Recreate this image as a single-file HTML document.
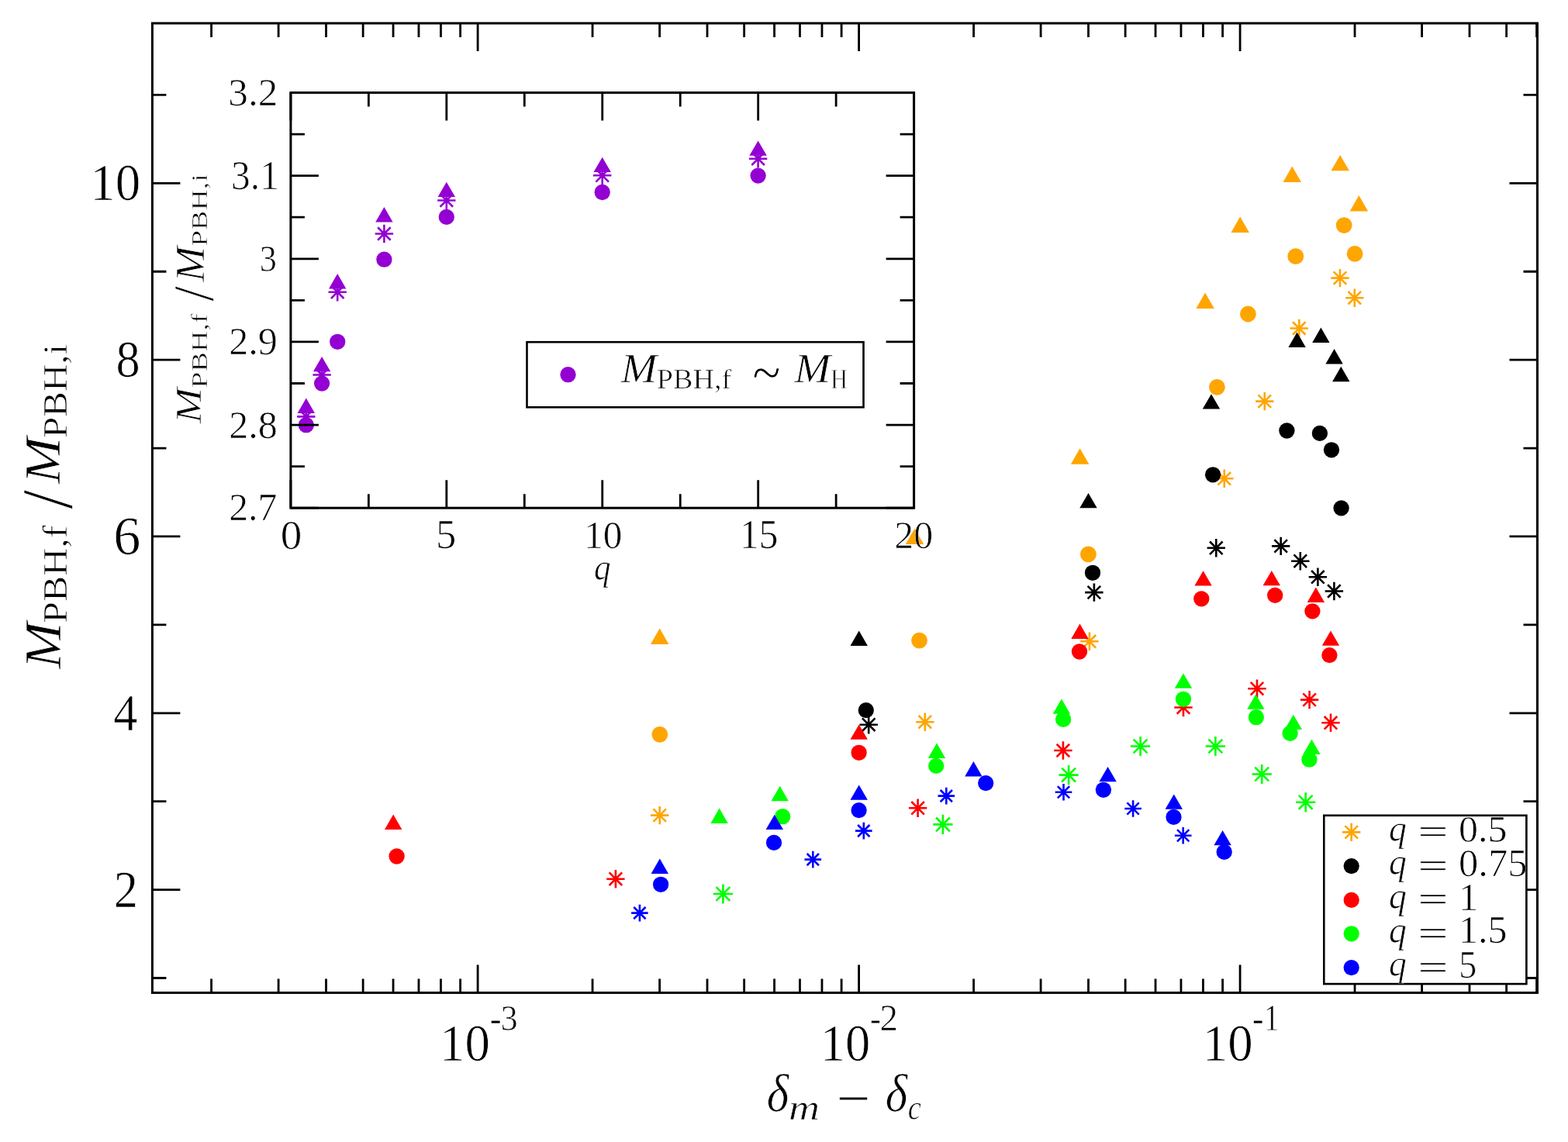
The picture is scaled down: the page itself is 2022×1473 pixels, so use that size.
<!DOCTYPE html>
<html><head><meta charset="utf-8"><style>html,body{margin:0;padding:0;background:#fff;}svg{display:block;}</style></head><body>
<svg width="2022" height="1473" viewBox="0 0 2022 1473">
<rect width="2022" height="1473" fill="#fff"/>
<path d="M850.7 810.5L838.95 830.9L862.45 830.9Z" fill="#ffa500"/>
<path d="M1179.5 681.7L1167.75 702.1L1191.25 702.1Z" fill="#ffa500"/>
<path d="M1392.6 578.3L1380.85 598.7L1404.35 598.7Z" fill="#ffa500"/>
<path d="M1554.1 377.6L1542.35 398L1565.85 398Z" fill="#ffa500"/>
<path d="M1599.2 279.6L1587.45 300L1610.95 300Z" fill="#ffa500"/>
<path d="M1666.3 214.6L1654.55 235L1678.05 235Z" fill="#ffa500"/>
<path d="M1728.2 199.9L1716.45 220.3L1739.95 220.3Z" fill="#ffa500"/>
<path d="M1752.4 252.1L1740.65 272.5L1764.15 272.5Z" fill="#ffa500"/>
<circle cx="850.8" cy="947.3" r="10.4" fill="#ffa500"/>
<circle cx="1185.5" cy="826.1" r="10.4" fill="#ffa500"/>
<circle cx="1403.4" cy="714.9" r="10.4" fill="#ffa500"/>
<circle cx="1569.4" cy="499.3" r="10.4" fill="#ffa500"/>
<circle cx="1609.4" cy="405" r="10.4" fill="#ffa500"/>
<circle cx="1670.8" cy="330.7" r="10.4" fill="#ffa500"/>
<circle cx="1733.2" cy="290.6" r="10.4" fill="#ffa500"/>
<circle cx="1747.1" cy="327.3" r="10.4" fill="#ffa500"/>
<path d="M850.7 1039.9V1063.3M839 1051.6H862.4M842.43 1043.33L858.97 1059.87M842.43 1059.87L858.97 1043.33" stroke="#ffa500" stroke-width="2.6" fill="none"/>
<path d="M1192.8 919.5V942.9M1181.1 931.2H1204.5M1184.53 922.93L1201.07 939.47M1184.53 939.47L1201.07 922.93" stroke="#ffa500" stroke-width="2.6" fill="none"/>
<path d="M1404.9 815.6V839M1393.2 827.3H1416.6M1396.63 819.03L1413.17 835.57M1396.63 835.57L1413.17 819.03" stroke="#ffa500" stroke-width="2.6" fill="none"/>
<path d="M1578.8 605.6V629M1567.1 617.3H1590.5M1570.53 609.03L1587.07 625.57M1570.53 625.57L1587.07 609.03" stroke="#ffa500" stroke-width="2.6" fill="none"/>
<path d="M1630.8 505.9V529.3M1619.1 517.6H1642.5M1622.53 509.33L1639.07 525.87M1622.53 525.87L1639.07 509.33" stroke="#ffa500" stroke-width="2.6" fill="none"/>
<path d="M1675.3 411.8V435.2M1663.6 423.5H1687M1667.03 415.23L1683.57 431.77M1667.03 431.77L1683.57 415.23" stroke="#ffa500" stroke-width="2.6" fill="none"/>
<path d="M1728 346.9V370.3M1716.3 358.6H1739.7M1719.73 350.33L1736.27 366.87M1719.73 366.87L1736.27 350.33" stroke="#ffa500" stroke-width="2.6" fill="none"/>
<path d="M1746.8 372.5V395.9M1735.1 384.2H1758.5M1738.53 375.93L1755.07 392.47M1738.53 392.47L1755.07 375.93" stroke="#ffa500" stroke-width="2.6" fill="none"/>
<path d="M1107.7 813.5L1096.5 832.9L1118.9 832.9Z" fill="#000000"/>
<path d="M1403.5 635.9L1392.3 655.3L1414.7 655.3Z" fill="#000000"/>
<path d="M1562 508.2L1550.8 527.6L1573.2 527.6Z" fill="#000000"/>
<path d="M1672.6 428.5L1661.4 447.9L1683.8 447.9Z" fill="#000000"/>
<path d="M1703.4 422.6L1692.2 442L1714.6 442Z" fill="#000000"/>
<path d="M1720.6 450.1L1709.4 469.5L1731.8 469.5Z" fill="#000000"/>
<path d="M1729.3 472.8L1718.1 492.2L1740.5 492.2Z" fill="#000000"/>
<circle cx="1116.8" cy="916.1" r="10.15" fill="#000000"/>
<circle cx="1409" cy="738.8" r="10.15" fill="#000000"/>
<circle cx="1564.1" cy="612.3" r="10.15" fill="#000000"/>
<circle cx="1659.4" cy="555.5" r="10.15" fill="#000000"/>
<circle cx="1701.9" cy="558.9" r="10.15" fill="#000000"/>
<circle cx="1717" cy="580.3" r="10.15" fill="#000000"/>
<circle cx="1729.6" cy="655.4" r="10.15" fill="#000000"/>
<path d="M1120.2 923V946.4M1108.5 934.7H1131.9M1111.93 926.43L1128.47 942.97M1111.93 942.97L1128.47 926.43" stroke="#000000" stroke-width="2.6" fill="none"/>
<path d="M1410.9 752.4V775.8M1399.2 764.1H1422.6M1402.63 755.83L1419.17 772.37M1402.63 772.37L1419.17 755.83" stroke="#000000" stroke-width="2.6" fill="none"/>
<path d="M1568.3 695.1V718.5M1556.6 706.8H1580M1560.03 698.53L1576.57 715.07M1560.03 715.07L1576.57 698.53" stroke="#000000" stroke-width="2.6" fill="none"/>
<path d="M1651.7 692.7V716.1M1640 704.4H1663.4M1643.43 696.13L1659.97 712.67M1643.43 712.67L1659.97 696.13" stroke="#000000" stroke-width="2.6" fill="none"/>
<path d="M1676.8 712V735.4M1665.1 723.7H1688.5M1668.53 715.43L1685.07 731.97M1668.53 731.97L1685.07 715.43" stroke="#000000" stroke-width="2.6" fill="none"/>
<path d="M1699.4 732.6V756M1687.7 744.3H1711.1M1691.13 736.03L1707.67 752.57M1691.13 752.57L1707.67 736.03" stroke="#000000" stroke-width="2.6" fill="none"/>
<path d="M1720.4 750.8V774.2M1708.7 762.5H1732.1M1712.13 754.23L1728.67 770.77M1712.13 770.77L1728.67 754.23" stroke="#000000" stroke-width="2.6" fill="none"/>
<path d="M507.2 1050.6L496 1070L518.4 1070Z" fill="#ff0000"/>
<path d="M1107.7 934.4L1096.5 953.8L1118.9 953.8Z" fill="#ff0000"/>
<path d="M1392.5 804.5L1381.3 823.9L1403.7 823.9Z" fill="#ff0000"/>
<path d="M1551.6 736.2L1540.4 755.6L1562.8 755.6Z" fill="#ff0000"/>
<path d="M1639.8 735.9L1628.6 755.3L1651 755.3Z" fill="#ff0000"/>
<path d="M1696.9 757.5L1685.7 776.9L1708.1 776.9Z" fill="#ff0000"/>
<path d="M1716 813.4L1704.8 832.8L1727.2 832.8Z" fill="#ff0000"/>
<circle cx="511.6" cy="1104.5" r="10.15" fill="#ff0000"/>
<circle cx="1107.6" cy="970.8" r="10.15" fill="#ff0000"/>
<circle cx="1392" cy="840.5" r="10.15" fill="#ff0000"/>
<circle cx="1549.3" cy="772.4" r="10.15" fill="#ff0000"/>
<circle cx="1644.2" cy="767.9" r="10.15" fill="#ff0000"/>
<circle cx="1692.4" cy="788.4" r="10.15" fill="#ff0000"/>
<circle cx="1714.4" cy="845.1" r="10.15" fill="#ff0000"/>
<path d="M793.9 1122V1145.4M782.2 1133.7H805.6M785.63 1125.43L802.17 1141.97M785.63 1141.97L802.17 1125.43" stroke="#ff0000" stroke-width="2.6" fill="none"/>
<path d="M1183.6 1030.6V1054M1171.9 1042.3H1195.3M1175.33 1034.03L1191.87 1050.57M1175.33 1050.57L1191.87 1034.03" stroke="#ff0000" stroke-width="2.6" fill="none"/>
<path d="M1370.9 956.3V979.7M1359.2 968H1382.6M1362.63 959.73L1379.17 976.27M1362.63 976.27L1379.17 959.73" stroke="#ff0000" stroke-width="2.6" fill="none"/>
<path d="M1526 900.8V924.2M1514.3 912.5H1537.7M1517.73 904.23L1534.27 920.77M1517.73 920.77L1534.27 904.23" stroke="#ff0000" stroke-width="2.6" fill="none"/>
<path d="M1621 876.5V899.9M1609.3 888.2H1632.7M1612.73 879.93L1629.27 896.47M1612.73 896.47L1629.27 879.93" stroke="#ff0000" stroke-width="2.6" fill="none"/>
<path d="M1688.6 890.9V914.3M1676.9 902.6H1700.3M1680.33 894.33L1696.87 910.87M1680.33 910.87L1696.87 894.33" stroke="#ff0000" stroke-width="2.6" fill="none"/>
<path d="M1716 920.6V944M1704.3 932.3H1727.7M1707.73 924.03L1724.27 940.57M1707.73 940.57L1724.27 924.03" stroke="#ff0000" stroke-width="2.6" fill="none"/>
<path d="M927.6 1042.5L916.4 1061.9L938.8 1061.9Z" fill="#00ff00"/>
<path d="M1005.7 1013.8L994.5 1033.2L1016.9 1033.2Z" fill="#00ff00"/>
<path d="M1208 958.5L1196.8 977.9L1219.2 977.9Z" fill="#00ff00"/>
<path d="M1368.9 901.4L1357.7 920.8L1380.1 920.8Z" fill="#00ff00"/>
<path d="M1526 868.4L1514.8 887.8L1537.2 887.8Z" fill="#00ff00"/>
<path d="M1619.4 895.4L1608.2 914.8L1630.6 914.8Z" fill="#00ff00"/>
<path d="M1667.8 921.7L1656.6 941.1L1679 941.1Z" fill="#00ff00"/>
<path d="M1691.5 953.7L1680.3 973.1L1702.7 973.1Z" fill="#00ff00"/>
<circle cx="1009.2" cy="1053.2" r="10.15" fill="#00ff00"/>
<circle cx="1207.2" cy="987.9" r="10.15" fill="#00ff00"/>
<circle cx="1371.1" cy="927.9" r="10.15" fill="#00ff00"/>
<circle cx="1526" cy="901.8" r="10.15" fill="#00ff00"/>
<circle cx="1619.9" cy="925.2" r="10.15" fill="#00ff00"/>
<circle cx="1663.6" cy="945.9" r="10.15" fill="#00ff00"/>
<circle cx="1688.4" cy="979.7" r="10.15" fill="#00ff00"/>
<path d="M932.4 1140.4V1165.6M919.8 1153H945M923.49 1144.09L941.31 1161.91M923.49 1161.91L941.31 1144.09" stroke="#00ff00" stroke-width="2.6" fill="none"/>
<path d="M1215.9 1050.8V1076M1203.3 1063.4H1228.5M1206.99 1054.49L1224.81 1072.31M1206.99 1072.31L1224.81 1054.49" stroke="#00ff00" stroke-width="2.6" fill="none"/>
<path d="M1378.1 987V1012.2M1365.5 999.6H1390.7M1369.19 990.69L1387.01 1008.51M1369.19 1008.51L1387.01 990.69" stroke="#00ff00" stroke-width="2.6" fill="none"/>
<path d="M1470.6 949.9V975.1M1458 962.5H1483.2M1461.69 953.59L1479.51 971.41M1461.69 971.41L1479.51 953.59" stroke="#00ff00" stroke-width="2.6" fill="none"/>
<path d="M1567.4 949.9V975.1M1554.8 962.5H1580M1558.49 953.59L1576.31 971.41M1558.49 971.41L1576.31 953.59" stroke="#00ff00" stroke-width="2.6" fill="none"/>
<path d="M1627.2 985.9V1011.1M1614.6 998.5H1639.8M1618.29 989.59L1636.11 1007.41M1618.29 1007.41L1636.11 989.59" stroke="#00ff00" stroke-width="2.6" fill="none"/>
<path d="M1683.7 1022.2V1047.4M1671.1 1034.8H1696.3M1674.79 1025.89L1692.61 1043.71M1674.79 1043.71L1692.61 1025.89" stroke="#00ff00" stroke-width="2.6" fill="none"/>
<path d="M850.8 1107.5L839.6 1126.9L862 1126.9Z" fill="#0000ff"/>
<path d="M998.8 1050.7L987.6 1070.1L1010 1070.1Z" fill="#0000ff"/>
<path d="M1107.7 1012.4L1096.5 1031.8L1118.9 1031.8Z" fill="#0000ff"/>
<path d="M1255.4 982.1L1244.2 1001.5L1266.6 1001.5Z" fill="#0000ff"/>
<path d="M1428.6 988.9L1417.4 1008.3L1439.8 1008.3Z" fill="#0000ff"/>
<path d="M1513.8 1024.4L1502.6 1043.8L1525 1043.8Z" fill="#0000ff"/>
<path d="M1576.6 1070.9L1565.4 1090.3L1587.8 1090.3Z" fill="#0000ff"/>
<circle cx="852.1" cy="1140.8" r="10.15" fill="#0000ff"/>
<circle cx="998" cy="1086.9" r="10.15" fill="#0000ff"/>
<circle cx="1107.6" cy="1045.1" r="10.15" fill="#0000ff"/>
<circle cx="1271.2" cy="1010.1" r="10.15" fill="#0000ff"/>
<circle cx="1422.9" cy="1018.8" r="10.15" fill="#0000ff"/>
<circle cx="1513.5" cy="1053.9" r="10.15" fill="#0000ff"/>
<circle cx="1578.7" cy="1098.9" r="10.15" fill="#0000ff"/>
<path d="M824.9 1166.8V1188.4M814.1 1177.6H835.7M817.26 1169.96L832.54 1185.24M817.26 1185.24L832.54 1169.96" stroke="#0000ff" stroke-width="2.6" fill="none"/>
<path d="M1048.3 1097.8V1119.4M1037.5 1108.6H1059.1M1040.66 1100.96L1055.94 1116.24M1040.66 1116.24L1055.94 1100.96" stroke="#0000ff" stroke-width="2.6" fill="none"/>
<path d="M1113.8 1060.8V1082.4M1103 1071.6H1124.6M1106.16 1063.96L1121.44 1079.24M1106.16 1079.24L1121.44 1063.96" stroke="#0000ff" stroke-width="2.6" fill="none"/>
<path d="M1220.3 1015.8V1037.4M1209.5 1026.6H1231.1M1212.66 1018.96L1227.94 1034.24M1212.66 1034.24L1227.94 1018.96" stroke="#0000ff" stroke-width="2.6" fill="none"/>
<path d="M1371.5 1011V1032.6M1360.7 1021.8H1382.3M1363.86 1014.16L1379.14 1029.44M1363.86 1029.44L1379.14 1014.16" stroke="#0000ff" stroke-width="2.6" fill="none"/>
<path d="M1461.1 1032.2V1053.8M1450.3 1043H1471.9M1453.46 1035.36L1468.74 1050.64M1453.46 1050.64L1468.74 1035.36" stroke="#0000ff" stroke-width="2.6" fill="none"/>
<path d="M1525.7 1066.9V1088.5M1514.9 1077.7H1536.5M1518.06 1070.06L1533.34 1085.34M1518.06 1085.34L1533.34 1070.06" stroke="#0000ff" stroke-width="2.6" fill="none"/>
<path d="M616.1 1280.5L616.1 1244.5M616.1 30L616.1 66M1107.6 1280.5L1107.6 1244.5M1107.6 30L1107.6 66M1599.1 1280.5L1599.1 1244.5M1599.1 30L1599.1 66M272.56 1280.5L272.56 1262.5M272.56 30L272.56 48M359.11 1280.5L359.11 1262.5M359.11 30L359.11 48M420.51 1280.5L420.51 1262.5M420.51 30L420.51 48M468.14 1280.5L468.14 1262.5M468.14 30L468.14 48M507.06 1280.5L507.06 1262.5M507.06 30L507.06 48M539.97 1280.5L539.97 1262.5M539.97 30L539.97 48M568.47 1280.5L568.47 1262.5M568.47 30L568.47 48M593.61 1280.5L593.61 1262.5M593.61 30L593.61 48M764.06 1280.5L764.06 1262.5M764.06 30L764.06 48M850.61 1280.5L850.61 1262.5M850.61 30L850.61 48M912.01 1280.5L912.01 1262.5M912.01 30L912.01 48M959.64 1280.5L959.64 1262.5M959.64 30L959.64 48M998.56 1280.5L998.56 1262.5M998.56 30L998.56 48M1031.47 1280.5L1031.47 1262.5M1031.47 30L1031.47 48M1059.97 1280.5L1059.97 1262.5M1059.97 30L1059.97 48M1085.11 1280.5L1085.11 1262.5M1085.11 30L1085.11 48M1255.56 1280.5L1255.56 1262.5M1255.56 30L1255.56 48M1342.11 1280.5L1342.11 1262.5M1342.11 30L1342.11 48M1403.51 1280.5L1403.51 1262.5M1403.51 30L1403.51 48M1451.14 1280.5L1451.14 1262.5M1451.14 30L1451.14 48M1490.06 1280.5L1490.06 1262.5M1490.06 30L1490.06 48M1522.97 1280.5L1522.97 1262.5M1522.97 30L1522.97 48M1551.47 1280.5L1551.47 1262.5M1551.47 30L1551.47 48M1576.61 1280.5L1576.61 1262.5M1576.61 30L1576.61 48M1747.06 1280.5L1747.06 1262.5M1747.06 30L1747.06 48M1833.61 1280.5L1833.61 1262.5M1833.61 30L1833.61 48M1895.01 1280.5L1895.01 1262.5M1895.01 30L1895.01 48M1942.64 1280.5L1942.64 1262.5M1942.64 30L1942.64 48M1981.56 1280.5L1981.56 1262.5M1981.56 30L1981.56 48M196.4 1147.6L232.4 1147.6M1982.5 1147.6L1946.5 1147.6M196.4 919.78L232.4 919.78M1982.5 919.78L1946.5 919.78M196.4 691.96L232.4 691.96M1982.5 691.96L1946.5 691.96M196.4 464.14L232.4 464.14M1982.5 464.14L1946.5 464.14M196.4 236.32L232.4 236.32M1982.5 236.32L1946.5 236.32M196.4 1261.51L214.4 1261.51M1982.5 1261.51L1964.5 1261.51M196.4 1033.69L214.4 1033.69M1982.5 1033.69L1964.5 1033.69M196.4 805.87L214.4 805.87M1982.5 805.87L1964.5 805.87M196.4 578.05L214.4 578.05M1982.5 578.05L1964.5 578.05M196.4 350.23L214.4 350.23M1982.5 350.23L1964.5 350.23M196.4 122.41L214.4 122.41M1982.5 122.41L1964.5 122.41" stroke="#000" stroke-width="2.8" fill="none"/>
<rect x="196.4" y="30" width="1786.1" height="1250.5" fill="none" stroke="#000" stroke-width="3"/>
<path d="M394.8 513.5L383.6 532.9L406 532.9Z" fill="#9400d3"/>
<path d="M415.1 459.9L403.9 479.3L426.3 479.3Z" fill="#9400d3"/>
<path d="M435.2 353L424 372.4L446.4 372.4Z" fill="#9400d3"/>
<path d="M495.4 267L484.2 286.4L506.6 286.4Z" fill="#9400d3"/>
<path d="M575.8 234.7L564.6 254.1L587 254.1Z" fill="#9400d3"/>
<path d="M776.7 202.7L765.5 222.1L787.9 222.1Z" fill="#9400d3"/>
<path d="M977.6 181.4L966.4 200.8L988.8 200.8Z" fill="#9400d3"/>
<path d="M394.8 525.7V549.1M383.1 537.4H406.5M386.53 529.13L403.07 545.67M386.53 545.67L403.07 529.13" stroke="#9400d3" stroke-width="2.6" fill="none"/>
<path d="M415.1 471.8V495.2M403.4 483.5H426.8M406.83 475.23L423.37 491.77M406.83 491.77L423.37 475.23" stroke="#9400d3" stroke-width="2.6" fill="none"/>
<path d="M435.2 365V388.4M423.5 376.7H446.9M426.93 368.43L443.47 384.97M426.93 384.97L443.47 368.43" stroke="#9400d3" stroke-width="2.6" fill="none"/>
<path d="M495.4 289.8V313.2M483.7 301.5H507.1M487.13 293.23L503.67 309.77M487.13 309.77L503.67 293.23" stroke="#9400d3" stroke-width="2.6" fill="none"/>
<path d="M575.8 246.8V270.2M564.1 258.5H587.5M567.53 250.23L584.07 266.77M567.53 266.77L584.07 250.23" stroke="#9400d3" stroke-width="2.6" fill="none"/>
<path d="M776.7 214.6V238M765 226.3H788.4M768.43 218.03L784.97 234.57M768.43 234.57L784.97 218.03" stroke="#9400d3" stroke-width="2.6" fill="none"/>
<path d="M977.6 193V216.4M965.9 204.7H989.3M969.33 196.43L985.87 212.97M969.33 212.97L985.87 196.43" stroke="#9400d3" stroke-width="2.6" fill="none"/>
<circle cx="394.8" cy="548.2" r="10.15" fill="#9400d3"/>
<circle cx="415.1" cy="494.6" r="10.15" fill="#9400d3"/>
<circle cx="435.2" cy="440.8" r="10.15" fill="#9400d3"/>
<circle cx="495.4" cy="334.7" r="10.15" fill="#9400d3"/>
<circle cx="575.8" cy="279.9" r="10.15" fill="#9400d3"/>
<circle cx="776.7" cy="248" r="10.15" fill="#9400d3"/>
<circle cx="977.6" cy="226.6" r="10.15" fill="#9400d3"/>
<path d="M374.9 655.2L374.9 619.2M374.9 119.5L374.9 155.5M575.82 655.2L575.82 619.2M575.82 119.5L575.82 155.5M776.75 655.2L776.75 619.2M776.75 119.5L776.75 155.5M977.67 655.2L977.67 619.2M977.67 119.5L977.67 155.5M1178.6 655.2L1178.6 619.2M1178.6 119.5L1178.6 155.5M475.36 655.2L475.36 637.2M475.36 119.5L475.36 137.5M676.29 655.2L676.29 637.2M676.29 119.5L676.29 137.5M877.21 655.2L877.21 637.2M877.21 119.5L877.21 137.5M1078.14 655.2L1078.14 637.2M1078.14 119.5L1078.14 137.5M374.9 655.2L410.9 655.2M1178.6 655.2L1142.6 655.2M374.9 548.06L410.9 548.06M1178.6 548.06L1142.6 548.06M374.9 440.92L410.9 440.92M1178.6 440.92L1142.6 440.92M374.9 333.78L410.9 333.78M1178.6 333.78L1142.6 333.78M374.9 226.64L410.9 226.64M1178.6 226.64L1142.6 226.64M374.9 119.5L410.9 119.5M1178.6 119.5L1142.6 119.5M374.9 601.63L392.9 601.63M1178.6 601.63L1160.6 601.63M374.9 494.49L392.9 494.49M1178.6 494.49L1160.6 494.49M374.9 387.35L392.9 387.35M1178.6 387.35L1160.6 387.35M374.9 280.21L392.9 280.21M1178.6 280.21L1160.6 280.21M374.9 173.07L392.9 173.07M1178.6 173.07L1160.6 173.07" stroke="#000" stroke-width="2.8" fill="none"/>
<rect x="374.9" y="119.5" width="803.7" height="535.7" fill="none" stroke="#000" stroke-width="3"/>
<text transform="translate(294.3 135.64) scale(1.0167 1)" font-family="'Liberation Serif', serif" font-style="normal" font-size="50.42" fill="#000" stroke="#fff" stroke-width="0.694">3.2</text>
<text transform="translate(298.09 244.4) scale(0.9329 1)" font-family="'Liberation Serif', serif" font-style="normal" font-size="52.94" fill="#000" stroke="#fff" stroke-width="0.725">3.1</text>
<text transform="translate(334.63 350.17) scale(0.8938 1)" font-family="'Liberation Serif', serif" font-style="normal" font-size="49.56" fill="#000" stroke="#fff" stroke-width="0.740">3</text>
<text transform="translate(295.14 457.24) scale(1.0047 1)" font-family="'Liberation Serif', serif" font-style="normal" font-size="49.98" fill="#000" stroke="#fff" stroke-width="0.698">2.9</text>
<text transform="translate(295.15 564.64) scale(0.9947 1)" font-family="'Liberation Serif', serif" font-style="normal" font-size="50.35" fill="#000" stroke="#fff" stroke-width="0.702">2.8</text>
<text transform="translate(295.17 671.34) scale(0.9855 1)" font-family="'Liberation Serif', serif" font-style="normal" font-size="50.42" fill="#000" stroke="#fff" stroke-width="0.705">2.7</text>
<text transform="translate(361.75 707.74) scale(1.0495 1)" font-family="'Liberation Serif', serif" font-style="normal" font-size="52.61" fill="#000" stroke="#fff" stroke-width="0.683">0</text>
<text transform="translate(562.09 707.33) scale(0.9964 1)" font-family="'Liberation Serif', serif" font-style="normal" font-size="52.82" fill="#000" stroke="#fff" stroke-width="0.701">5</text>
<text transform="translate(753.13 706.75) scale(0.9540 1)" font-family="'Liberation Serif', serif" font-style="normal" font-size="51.57" fill="#000" stroke="#fff" stroke-width="0.717">10</text>
<text transform="translate(954.02 706.74) scale(0.9481 1)" font-family="'Liberation Serif', serif" font-style="normal" font-size="51.95" fill="#000" stroke="#fff" stroke-width="0.719">15</text>
<clipPath id="cs1"><text font-family="'Liberation Serif', serif" font-style="normal" font-size="51.13">20</text></clipPath>
<text transform="translate(1153.35 706.65) scale(0.9780 1)" font-family="'Liberation Serif', serif" font-style="normal" font-size="51.13" fill="#000" clip-path="url(#cs1)" stroke="#fff" stroke-width="0.708">20</text>
<text transform="translate(766.02 748.21) scale(0.8958 1)" font-family="'Liberation Serif', serif" font-style="italic" font-size="48.09" fill="#000" stroke="#fff" stroke-width="0.740">q</text>
<g transform="translate(258.5 546.6) rotate(-90)">
<text transform="translate(0.64 0) scale(1.2013 1)" font-family="'Liberation Serif', serif" font-style="italic" font-size="45.8" fill="#000" stroke="#fff" stroke-width="0.639">M</text>
<text transform="translate(45.9 8.1) scale(1.2808 1)" font-family="'Liberation Serif', serif" font-style="normal" font-size="29.8" fill="#000" stroke="#fff" stroke-width="0.619">PBH,f</text>
<text transform="translate(158.1 16.17) scale(0.6947 0.7460)" font-family="'Liberation Serif', serif" font-style="normal" font-size="100" fill="#000" stroke="#fff" stroke-width="0.972">/</text>
<text transform="translate(183.14 4.3) scale(1.0500 1)" font-family="'Liberation Serif', serif" font-style="italic" font-size="52.4" fill="#000" stroke="#fff" stroke-width="0.683">M</text>
<text transform="translate(228.5 8.1) scale(1.2757 1)" font-family="'Liberation Serif', serif" font-style="normal" font-size="29.8" fill="#000" stroke="#fff" stroke-width="0.620">PBH,i</text>
</g>
<rect x="679.5" y="441.2" width="434" height="84.1" fill="#fff" stroke="#000" stroke-width="2.6"/>
<circle cx="732.5" cy="483.2" r="10.15" fill="#9400d3"/>
<text transform="translate(800.66 493.3) scale(1.0712 1)" font-family="'Liberation Serif', serif" font-style="italic" font-size="52.2" fill="#000" stroke="#fff" stroke-width="0.676">M</text>
<text transform="translate(846.8 501) scale(1.0514 1)" font-family="'Liberation Serif', serif" font-style="normal" font-size="36.3" fill="#000" stroke="#fff" stroke-width="0.683">PBH,f</text>
<text transform="translate(970.55 503.92) scale(0.6648 0.7025)" font-family="'Liberation Serif', serif" font-style="normal" font-size="100" fill="#000" stroke="#fff" stroke-width="1.024">~</text>
<text transform="translate(1024.46 493.3) scale(1.0712 1)" font-family="'Liberation Serif', serif" font-style="italic" font-size="52.2" fill="#000" stroke="#fff" stroke-width="0.676">M</text>
<text transform="translate(1071.24 501) scale(0.8255 1)" font-family="'Liberation Serif', serif" font-style="normal" font-size="36.3" fill="#000" stroke="#fff" stroke-width="0.770">H</text>
<rect x="1707.3" y="1051.8" width="261.1" height="217.3" fill="#fff" stroke="#000" stroke-width="2.6"/>
<path d="M1742.7 1061.7V1085.1M1731 1073.4H1754.4M1734.43 1065.13L1750.97 1081.67M1734.43 1081.67L1750.97 1065.13" stroke="#ffa500" stroke-width="2.6" fill="none"/>
<circle cx="1742.7" cy="1117.1" r="10.15" fill="#000000"/>
<circle cx="1742.7" cy="1160.9" r="10.15" fill="#ff0000"/>
<circle cx="1742.7" cy="1204.3" r="10.15" fill="#00ff00"/>
<circle cx="1742.7" cy="1248.1" r="10.15" fill="#0000ff"/>
<text transform="translate(1791.03 1084.84) scale(0.9638 1)" font-family="'Liberation Serif', serif" font-style="italic" font-size="47.51" fill="#000" stroke="#fff" stroke-width="0.713">q</text>
<text transform="translate(1828.17 1088.24) scale(1.4924 1)" font-family="'Liberation Serif', serif" font-style="normal" font-size="46.8" fill="#000" stroke="#fff" stroke-width="0.573">=</text>
<text transform="translate(1881.05 1086.06) scale(1.0221 1)" font-family="'Liberation Serif', serif" font-style="normal" font-size="48.88" fill="#000" stroke="#fff" stroke-width="0.692">0.5</text>
<text transform="translate(1791.03 1128.44) scale(0.9638 1)" font-family="'Liberation Serif', serif" font-style="italic" font-size="47.51" fill="#000" stroke="#fff" stroke-width="0.713">q</text>
<text transform="translate(1828.17 1131.84) scale(1.4924 1)" font-family="'Liberation Serif', serif" font-style="normal" font-size="46.8" fill="#000" stroke="#fff" stroke-width="0.573">=</text>
<clipPath id="cs2"><text font-family="'Liberation Serif', serif" font-style="normal" font-size="51.38">0.75</text></clipPath>
<text transform="translate(1881.02 1130.02) scale(0.9854 1)" font-family="'Liberation Serif', serif" font-style="normal" font-size="51.38" fill="#000" clip-path="url(#cs2)" stroke="#fff" stroke-width="0.705">0.75</text>
<text transform="translate(1791.03 1172.04) scale(0.9638 1)" font-family="'Liberation Serif', serif" font-style="italic" font-size="47.51" fill="#000" stroke="#fff" stroke-width="0.713">q</text>
<text transform="translate(1828.17 1175.44) scale(1.4924 1)" font-family="'Liberation Serif', serif" font-style="normal" font-size="46.8" fill="#000" stroke="#fff" stroke-width="0.573">=</text>
<text transform="translate(1881.01 1173.95) scale(0.9788 1)" font-family="'Liberation Serif', serif" font-style="normal" font-size="51.65" fill="#000" stroke="#fff" stroke-width="0.708">1</text>
<text transform="translate(1791.03 1215.64) scale(0.9638 1)" font-family="'Liberation Serif', serif" font-style="italic" font-size="47.51" fill="#000" stroke="#fff" stroke-width="0.713">q</text>
<text transform="translate(1828.17 1219.04) scale(1.4924 1)" font-family="'Liberation Serif', serif" font-style="normal" font-size="46.8" fill="#000" stroke="#fff" stroke-width="0.573">=</text>
<text transform="translate(1881.06 1216.43) scale(0.9878 1)" font-family="'Liberation Serif', serif" font-style="normal" font-size="50.57" fill="#000" stroke="#fff" stroke-width="0.704">1.5</text>
<clipPath id="cs3"><text font-family="'Liberation Serif', serif" font-style="italic" font-size="47.51">q</text></clipPath>
<text transform="translate(1791.03 1259.24) scale(0.9638 1)" font-family="'Liberation Serif', serif" font-style="italic" font-size="47.51" fill="#000" clip-path="url(#cs3)" stroke="#fff" stroke-width="0.713">q</text>
<text transform="translate(1828.17 1262.64) scale(1.4924 1)" font-family="'Liberation Serif', serif" font-style="normal" font-size="46.8" fill="#000" stroke="#fff" stroke-width="0.573">=</text>
<text transform="translate(1881.17 1260.65) scale(0.8998 1)" font-family="'Liberation Serif', serif" font-style="normal" font-size="51.31" fill="#000" stroke="#fff" stroke-width="0.738">5</text>
<text transform="translate(116.14 258.2) scale(0.9724 1)" font-family="'Liberation Serif', serif" font-style="normal" font-size="66.83" fill="#000" stroke="#fff" stroke-width="0.710">10</text>
<text transform="translate(149.38 486.39) scale(0.9258 1)" font-family="'Liberation Serif', serif" font-style="normal" font-size="67.28" fill="#000" stroke="#fff" stroke-width="0.727">8</text>
<text transform="translate(146.23 714.57) scale(1.0124 1)" font-family="'Liberation Serif', serif" font-style="normal" font-size="69.36" fill="#000" stroke="#fff" stroke-width="0.696">6</text>
<text transform="translate(146.14 942.35) scale(0.9155 1)" font-family="'Liberation Serif', serif" font-style="normal" font-size="67.91" fill="#000" stroke="#fff" stroke-width="0.732">4</text>
<text transform="translate(146.81 1169.65) scale(0.9363 1)" font-family="'Liberation Serif', serif" font-style="normal" font-size="66.61" fill="#000" stroke="#fff" stroke-width="0.723">2</text>
<text transform="translate(566.95 1368.39) scale(0.9621 1)" font-family="'Liberation Serif', serif" font-style="normal" font-size="67.43" fill="#000" stroke="#fff" stroke-width="0.714">10</text>
<text transform="translate(631.46 1330.43) scale(0.8931 1)" font-family="'Liberation Serif', serif" font-style="normal" font-size="50.87" fill="#000" stroke="#fff" stroke-width="0.741">-</text>
<text transform="translate(645.85 1329.19) scale(0.9229 1)" font-family="'Liberation Serif', serif" font-style="normal" font-size="47.48" fill="#000" stroke="#fff" stroke-width="0.729">3</text>
<text transform="translate(1057.67 1368.39) scale(0.9587 1)" font-family="'Liberation Serif', serif" font-style="normal" font-size="67.43" fill="#000" stroke="#fff" stroke-width="0.715">10</text>
<text transform="translate(1122.01 1330.43) scale(0.8174 1)" font-family="'Liberation Serif', serif" font-style="normal" font-size="50.87" fill="#000" stroke="#fff" stroke-width="0.774">-</text>
<text transform="translate(1134.48 1329.25) scale(0.9910 1)" font-family="'Liberation Serif', serif" font-style="normal" font-size="47.58" fill="#000" stroke="#fff" stroke-width="0.703">2</text>
<text transform="translate(1550.75 1368.39) scale(0.9621 1)" font-family="'Liberation Serif', serif" font-style="normal" font-size="67.43" fill="#000" stroke="#fff" stroke-width="0.714">10</text>
<text transform="translate(1614.79 1330.43) scale(0.8779 1)" font-family="'Liberation Serif', serif" font-style="normal" font-size="50.87" fill="#000" stroke="#fff" stroke-width="0.747">-</text>
<text transform="translate(1630.28 1329.25) scale(0.8036 1)" font-family="'Liberation Serif', serif" font-style="normal" font-size="47.72" fill="#000" stroke="#fff" stroke-width="0.781">1</text>
<text transform="translate(988.66 1433.4) scale(0.9146 1)" font-family="'Liberation Serif', serif" font-style="italic" font-size="66.76" fill="#000" stroke="#fff" stroke-width="0.732">δ</text>
<text transform="translate(1016.95 1443.85) scale(1.1818 1)" font-family="'Liberation Serif', serif" font-style="italic" font-size="46.9" fill="#000" stroke="#fff" stroke-width="0.644">m</text>
<text transform="translate(1078.56 1443) scale(0.9962 1)" font-family="'Liberation Serif', serif" font-style="normal" font-size="78.31" fill="#000" stroke="#fff" stroke-width="0.701">−</text>
<text transform="translate(1141.76 1433.4) scale(0.9146 1)" font-family="'Liberation Serif', serif" font-style="italic" font-size="66.76" fill="#000" stroke="#fff" stroke-width="0.732">δ</text>
<text transform="translate(1170.86 1444) scale(0.8384 1)" font-family="'Liberation Serif', serif" font-style="italic" font-size="45.95" fill="#000" stroke="#fff" stroke-width="0.764">c</text>
<g transform="translate(77.9 863.4) rotate(-90)">
<text transform="translate(0.85 0) scale(1.0857 1)" font-family="'Liberation Serif', serif" font-style="italic" font-size="66.6" fill="#000" stroke="#fff" stroke-width="0.672">M</text>
<text transform="translate(59.76 8.1) scale(1.1339 1)" font-family="'Liberation Serif', serif" font-style="normal" font-size="44" fill="#000" stroke="#fff" stroke-width="0.657">PBH,f</text>
<text transform="translate(206.8 13.78) scale(0.8854 0.9388)" font-family="'Liberation Serif', serif" font-style="normal" font-size="100" fill="#000" stroke="#fff" stroke-width="0.768">/</text>
<text transform="translate(239.45 -0.9) scale(1.1090 1)" font-family="'Liberation Serif', serif" font-style="italic" font-size="65.2" fill="#000" stroke="#fff" stroke-width="0.665">M</text>
<text transform="translate(298.29 8.1) scale(1.1151 1)" font-family="'Liberation Serif', serif" font-style="normal" font-size="44" fill="#000" stroke="#fff" stroke-width="0.663">PBH,i</text>
</g>
</svg>
</body></html>
